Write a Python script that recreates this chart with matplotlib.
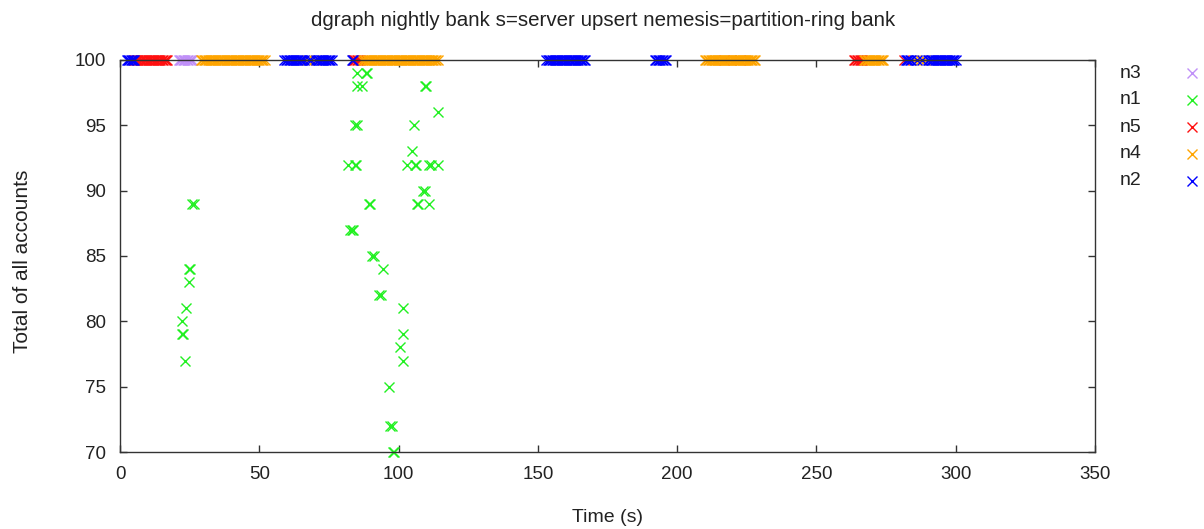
import matplotlib
matplotlib.use("Agg")
import matplotlib.pyplot as plt
from matplotlib.lines import Line2D

plt.rcParams['font.family'] = ['Liberation Sans', 'DejaVu Sans']

title = "dgraph nightly bank s=server upsert nemesis=partition-ring bank"
x_label = "Time (s)"
y_label = "Total of all accounts"
x_ticks = [0, 50, 100, 150, 200, 250, 300, 350]
y_ticks = [70, 75, 80, 85, 90, 95, 100]

series_names = ["n3", "n1", "n5", "n4", "n2"]
series_colors = ["#c090f8", "#22f022", "#ff1010", "#ffa500", "#0000ff"]

# n3 (purple) readings
n3_t = [21.0, 21.5, 22.0, 22.5, 23.0, 23.5, 24.0, 24.5, 25.0, 25.5, 26.0]
n3_v = [100] * len(n3_t)

# n1 (green) readings
n1_t = [25.7, 26.5, 24.6, 25.1, 24.6, 23.7, 22.1, 22.2, 22.7, 23.3,
        85.2, 88.2, 88.8, 85.2, 86.7, 109.4, 109.9, 114.3, 84.5, 85.0,
        105.4, 104.8, 82.0, 84.2, 84.7, 102.9, 105.8, 106.4, 111.0, 111.6,
        114.3, 108.9, 109.4, 89.3, 89.8, 106.6, 107.1, 110.9, 82.6, 83.2,
        83.6, 90.6, 91.1, 94.3, 93.1, 93.6, 101.5, 101.5, 100.5, 101.5,
        96.4, 96.9, 97.5, 97.9, 98.4]
n1_v = [89, 89, 84, 84, 83, 81, 80, 79, 79, 77,
        99, 99, 99, 98, 98, 98, 98, 96, 95, 95,
        95, 93, 92, 92, 92, 92, 92, 92, 92, 92,
        92, 90, 90, 89, 89, 89, 89, 89, 87, 87,
        87, 85, 85, 84, 82, 82, 81, 79, 78, 77,
        75, 72, 72, 70, 70]

# n5 (red) readings
n5_t = [5.0, 5.5, 6.0, 6.5, 7.0, 7.5, 8.0, 8.5, 9.0, 9.5, 10.0, 10.5, 11.0,
        11.5, 12.0, 12.5, 13.0, 13.5, 14.0, 14.5, 15.0, 15.5, 16.0, 16.5, 17.0,
        83.5, 84.0, 84.5, 85.0, 85.5, 86.0,
        216.8, 222.4,
        263.5, 264.0, 264.5, 265.0, 265.5, 266.0, 266.5, 281.6]
n5_v = [100] * len(n5_t)

# n4 (orange) readings
n4_t = [29.0, 29.5, 30.0, 30.5, 31.0, 31.5, 32.0, 32.5, 33.0, 33.5, 34.0,
        34.5, 35.0, 35.5, 36.0, 36.5, 37.0, 37.5, 38.0, 38.5, 39.0, 39.5,
        40.0, 40.5, 41.0, 41.5, 42.0, 42.5, 43.0, 43.5, 44.0, 44.5, 45.0,
        45.5, 46.0, 46.5, 47.0, 47.5, 48.0, 48.5, 49.0, 49.5, 50.0, 50.5,
        51.0, 51.5, 52.0,
        67.0, 69.5,
        87.0, 87.5, 88.0, 88.5, 89.0, 89.5, 90.0, 90.5, 91.0, 91.5, 92.0,
        92.5, 93.0, 93.5, 94.0, 94.5, 95.0, 95.5, 96.0, 96.5, 97.0, 97.5,
        98.0, 98.5, 99.0, 99.5, 100.0, 100.5, 101.0, 101.5, 102.0, 102.5,
        103.0, 103.5, 104.0, 104.5, 105.0, 105.5, 106.0, 106.5, 107.0,
        107.5, 108.0, 108.5, 109.0, 109.5, 110.0, 110.5, 111.0, 111.5,
        112.0, 112.5, 113.0, 113.5, 114.0,
        210.0, 210.5, 211.0, 211.5, 212.0, 212.5, 213.0, 213.5, 214.0,
        214.5, 215.0, 215.5, 216.0, 216.5, 217.0, 217.5, 218.0, 218.5,
        219.0, 219.5, 220.0, 220.5, 221.0, 221.5, 222.0, 222.5, 223.0,
        223.5, 224.0, 224.5, 225.0, 225.5, 226.0, 226.5, 227.0, 227.5, 228.0,
        267.0, 267.5, 268.0, 268.5, 269.0, 269.5, 270.0, 270.5, 271.0,
        271.5, 272.0, 272.5, 273.0, 273.5, 274.0,
        285.0, 287.0, 289.0]
n4_v = [100] * len(n4_t)

# n2 (blue) readings
n2_t = [2.6, 3.0, 3.4, 3.8, 4.2, 4.6, 5.0,
        59.0, 59.5, 60.0, 60.5, 61.0, 61.5, 62.0, 62.5, 63.0, 63.5, 64.0,
        64.5, 65.0, 65.5, 66.0, 68.0, 68.5, 70.5, 71.0, 71.5, 72.0, 72.5,
        73.0, 73.5, 74.0, 74.5, 75.0, 75.5, 76.0,
        83.3, 83.8,
        153.0, 153.5, 154.0, 154.5, 155.0, 155.5, 156.0, 156.5, 157.0,
        157.5, 158.0, 158.5, 159.0, 159.5, 160.0, 160.5, 161.0, 161.5,
        162.0, 162.5, 163.0, 163.5, 164.0, 164.5, 165.0, 165.5, 166.0,
        166.5, 167.0,
        192.0, 192.5, 193.0, 193.5, 194.0, 194.5, 195.0, 195.5, 196.0,
        282.0, 282.5, 283.0, 283.5, 284.0, 286.0, 288.0, 290.0, 290.5,
        291.0, 291.5, 292.0, 292.5, 293.0, 293.5, 294.0, 294.5, 295.0,
        295.5, 296.0, 296.5, 297.0, 297.5, 298.0, 298.5, 299.0, 299.5, 300.0]
n2_v = [100] * len(n2_t)

series_t = [n3_t, n1_t, n5_t, n4_t, n2_t]
series_v = [n3_v, n1_v, n5_v, n4_v, n2_v]

W, H = 1204, 529
fig = plt.figure(figsize=(W / 100, H / 100), dpi=100)
L, R, T, B = 120, 1095, 60, 452
ax = fig.add_axes([L / W, (H - B) / H, (R - L) / W, (B - T) / H])

for name, col, t, v in zip(series_names, series_colors, series_t, series_v):
    ax.plot(t, v, linestyle='none', marker='x', markersize=6.6,
            markeredgewidth=1.0, color=col, clip_on=False)

ax.set_xlim(0, 350)
ax.set_ylim(70, 100)
ax.set_xticks(x_ticks)
ax.set_xticklabels([str(v) for v in x_ticks])
ax.set_yticks(y_ticks)
ax.set_yticklabels([str(v) for v in y_ticks])
ax.tick_params(direction='in', length=5, width=1, top=True, right=True,
               labelsize=13.5, labelcolor='#222222', color='#333333', pad=10)
for s in ax.spines.values():
    s.set_color('#333333')
    s.set_linewidth(1.0)

fig.text(603 / W, 1 - 20 / H, title, ha='center', va='center',
         fontsize=14.8, color='#222222')
fig.text(607 / W, 1 - 517 / H, x_label, ha='center', va='center',
         fontsize=14, color='#222222')
fig.text(22 / W, 1 - 261 / H, y_label, ha='center', va='center',
         rotation=90, fontsize=15, color='#222222')

# gnuplot-style legend on the right
rows_y = [73, 100, 127, 154, 181]
for name, col, yy in zip(series_names, series_colors, rows_y):
    fig.text(1120 / W, 1 - yy / H, name, ha='left', va='center',
             fontsize=14, color='#222222')
    fig.add_artist(Line2D([1192 / W], [1 - yy / H], transform=fig.transFigure,
                          linestyle='none', marker='x', markersize=6.6,
                          markeredgewidth=1.0, color=col))

fig.savefig("out.png", dpi=100)
